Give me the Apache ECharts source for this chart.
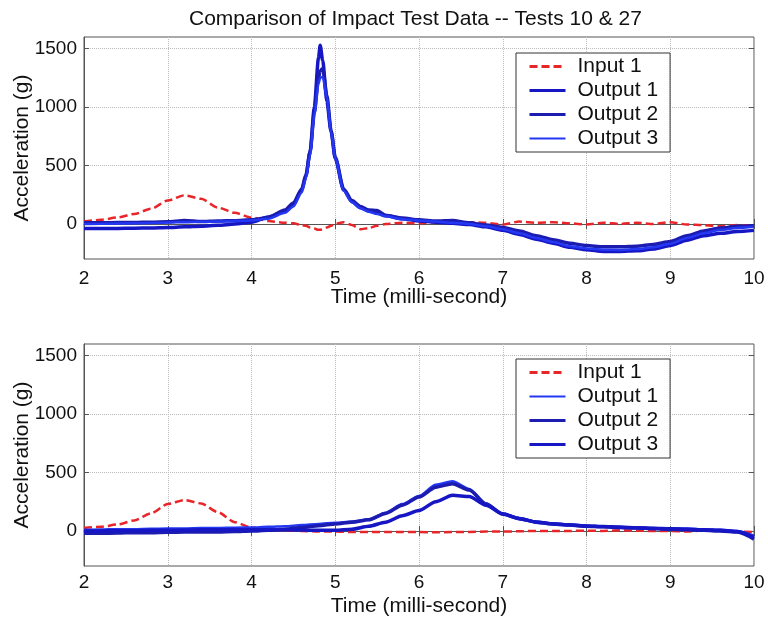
<!DOCTYPE html>
<html>
<head>
<meta charset="utf-8">
<title>Comparison of Impact Test Data</title>
<script src="https://cdn.jsdelivr.net/npm/echarts@6/dist/echarts.min.js"></script>
<style>
  html, body { margin: 0; padding: 0; background: #fff; }
  #chart { width: 768px; height: 619px; }
</style>
</head>
<body>
<div id="chart"></div>
<script>
// time samples (milli-second)
const topTime = [2, 2.2, 2.4, 2.6, 2.8, 3, 3.2, 3.4, 3.6, 3.8, 4, 4.2, 4.4, 4.5, 4.6, 4.65, 4.7, 4.75, 4.8, 4.82,
	4.85, 4.9, 4.95, 5, 5.1, 5.2, 5.3, 5.4, 5.5, 5.6, 5.8, 6, 6.2, 6.4, 6.6, 6.8, 7, 7.2, 7.4, 7.6,
	7.8, 8, 8.2, 8.4, 8.6, 8.8, 9, 9.2, 9.4, 9.6, 9.8, 10];
const botTime = [2, 2.2, 2.4, 2.6, 2.8, 3, 3.2, 3.4, 3.6, 3.8, 4, 4.2, 4.4, 4.6, 4.8, 5, 5.2, 5.4, 5.6, 5.8,
	6, 6.2, 6.4, 6.6, 6.8, 7, 7.2, 7.4, 7.6, 7.8, 8, 8.2, 8.4, 8.6, 8.8, 9, 9.2, 9.4, 9.6, 9.8, 10];

// top panel (g)
const topInput = [20, 35, 55, 85, 130, 200, 245, 215, 140, 95, 55, 25, 10, 5, -10, -15, -30, -40, -50, -50,
	-45, -30, -15, 0, 15, -10, -45, -35, -15, 0, 10, 5, 15, 5, 15, 10, -5, 20, 10, 15,
	5, -5, 10, 0, 10, 0, 15, -5, -10, -20, -10, -15];
const topOut1 = [-40, -40, -38, -36, -34, -30, -25, -20, -12, 0, 15, 60, 110, 170, 290, 410, 620, 1000, 1420, 1530,
	1400, 1050, 790, 560, 290, 190, 140, 110, 95, 70, 45, 25, 15, 5, -5, -25, -55, -90, -130, -165,
	-200, -220, -235, -235, -230, -215, -185, -140, -100, -80, -65, -55];
const topOut2 = [10, 10, 12, 12, 15, 18, 30, 20, 25, 28, 35, 55, 120, 180, 300, 420, 620, 950, 1250, 1310,
	1330, 1100, 800, 570, 300, 200, 150, 120, 115, 75, 50, 35, 25, 30, 10, -10, -30, -60, -100, -135,
	-165, -185, -195, -195, -190, -175, -150, -100, -60, -35, -20, -15];
const topOut3 = [0, 2, 3, 5, 8, 12, 15, 18, 20, 25, 30, 45, 95, 150, 270, 390, 590, 930, 1200, 1250,
	1260, 1080, 790, 560, 285, 185, 135, 105, 85, 65, 40, 30, 20, 10, 0, -20, -45, -80, -120, -155,
	-190, -210, -220, -222, -215, -200, -170, -120, -80, -50, -35, -25];

// bottom panel (g)
const botInput = [25, 35, 55, 90, 150, 230, 265, 235, 160, 75, 30, 10, 5, 0, -5, -5, -10, -10, -10, -10,
	-10, -12, -10, -8, -5, -5, -3, 0, 0, 0, 2, 0, 5, 2, 0, 0, -5, 5, 0, -5, -10];
const botOut1 = [10, 12, 15, 15, 18, 20, 22, 25, 25, 28, 30, 35, 40, 50, 60, 70, 80, 100, 155, 230,
	300, 395, 425, 360, 235, 150, 110, 80, 65, 55, 45, 40, 35, 30, 25, 20, 20, 15, 10, 0, -40];
const botOut2 = [-20, -20, -18, -15, -15, -12, -10, -10, -8, -5, 0, 5, 15, 30, 45, 60, 75, 95, 150, 220,
	290, 375, 405, 350, 230, 145, 105, 75, 60, 50, 40, 35, 30, 25, 20, 15, 10, 5, 0, -10, -70];
const botOut3 = [0, 0, 2, 2, 5, 5, 8, 10, 10, 12, 10, 10, 10, 8, 5, 5, 15, 40, 75, 130,
	175, 250, 305, 295, 220, 145, 105, 75, 60, 50, 42, 38, 32, 28, 22, 18, 15, 10, 5, -5, -55];

const seriesNames = ["Input 1", "Output 1", "Output 2", "Output 3"];
const yTicks = [0, 500, 1000, 1500];

const FONT = "Liberation Sans, Arial, Helvetica, sans-serif";
const BOX = "#555";
const RED = "#e8262a";
const BLUE_DARK = "#1616c4";
const BLUE_MID = "#1c1cb0";
const BLUE_LIGHT = "#2438f4";
const NO_MARK = {color: "rgba(0,0,0,0)", borderColor: "rgba(0,0,0,0)", borderWidth: 0};

const pairs = (t, v) => t.map((x, i) => [x, v[i]]);

const chart = echarts.init(document.getElementById("chart"));

function xAxes(gridIndex, margin, nameGap) {
	return [
		{
			type: "value", gridIndex: gridIndex, min: 2, max: 10, interval: 1,
			name: "Time (milli-second)", nameLocation: "middle", nameGap: nameGap, nameMoveOverlap: false,
			nameTextStyle: {fontFamily: FONT, fontSize: 21, color: "#111"},
			axisLine: {show: true, lineStyle: {color: BOX}},
			axisTick: {show: true, inside: true, length: 5, lineStyle: {color: BOX}},
			axisLabel: {fontFamily: FONT, fontSize: 19, color: "#111", margin: margin},
			splitLine: {show: true, lineStyle: {color: "#bcbcbc", type: "dotted"}},
		},
		{
			type: "value", gridIndex: gridIndex, position: "top", min: 2, max: 10, interval: 1,
			axisLine: {show: false},
			axisTick: {show: true, inside: true, length: 5, lineStyle: {color: BOX}},
			axisLabel: {show: false},
			splitLine: {show: false},
		},
	];
}

function yAxes(gridIndex) {
	return [
		{
			type: "value", gridIndex: gridIndex, min: -300, max: 1600,
			name: "Acceleration (g)", nameLocation: "middle", nameGap: 51, nameMoveOverlap: false,
			nameTextStyle: {fontFamily: FONT, fontSize: 21, color: "#111"},
			axisLine: {show: true, lineStyle: {color: BOX}},
			axisTick: {show: true, inside: true, length: 5, lineStyle: {color: BOX}, customValues: yTicks},
			axisLabel: {
				fontFamily: FONT, fontSize: 19, color: "#111", margin: 7, customValues: yTicks,
				formatter: (v) => String(v),
			},
			splitLine: {show: true, lineStyle: {color: "#bcbcbc", type: "dotted"}},
		},
		{
			type: "value", gridIndex: gridIndex, position: "right", min: -300, max: 1600,
			axisLine: {show: false},
			axisTick: {show: true, inside: true, length: 5, lineStyle: {color: BOX}, customValues: yTicks},
			axisLabel: {show: false},
			splitLine: {show: false},
		},
	];
}

function line(name, data, axisIndex, color, width, dashed) {
	return {
		name: name, type: "line", data: data,
		xAxisIndex: axisIndex, yAxisIndex: axisIndex,
		symbol: "none", smooth: 0.25, smoothMonotone: "x",
		lineStyle: {color: color, width: width, type: dashed ? [8, 4] : "solid"},
		itemStyle: {color: color},
	};
}

function legend(top, styles) {
	return {
		orient: "vertical", left: 516, top: top,
		backgroundColor: "#fff", borderColor: "#333", borderWidth: 1,
		padding: [3, 12, 3, 12], itemGap: 3, itemWidth: 36, itemHeight: 14,
		selectedMode: false,
		textStyle: {fontFamily: FONT, fontSize: 21, color: "#111", padding: [0, 0, 0, 7]},
		data: seriesNames.map((n, i) => ({name: n, lineStyle: styles[i], itemStyle: NO_MARK})),
	};
}

const gridBase = {
	left: 84, width: 670, height: 222, outerBoundsMode: "none", containLabel: false,
	show: true, borderColor: BOX, borderWidth: 1, backgroundColor: "#fff",
};

const options = {
	animation: false,
	backgroundColor: "#fff",
	title: {
		text: "Comparison of Impact Test Data -- Tests 10 & 27",
		left: 184, top: 4,
		textStyle: {fontFamily: FONT, fontSize: 21, fontWeight: "normal", color: "#111"},
	},
	grid: [
		{...gridBase, top: 37},
		{...gridBase, top: 344},
	],
	xAxis: [...xAxes(0, 10, 28), ...xAxes(1, 7, 30)],
	yAxis: [...yAxes(0), ...yAxes(1)],
	legend: [
		legend(53, [
			{color: RED, width: 3, type: [8, 4]},
			{color: BLUE_DARK, width: 3, type: "solid"},
			{color: BLUE_MID, width: 3, type: "solid"},
			{color: BLUE_LIGHT, width: 2, type: "solid"},
		]),
		legend(359, [
			{color: RED, width: 3, type: [8, 4]},
			{color: BLUE_LIGHT, width: 2, type: "solid"},
			{color: BLUE_MID, width: 3, type: "solid"},
			{color: BLUE_DARK, width: 3, type: "solid"},
		]),
	],
	series: [
		line("Input 1", pairs(topTime, topInput), 0, RED, 2.5, true),
		line("Output 1", pairs(topTime, topOut1), 0, BLUE_DARK, 3.5),
		line("Output 2", pairs(topTime, topOut2), 0, BLUE_MID, 3.5),
		line("Output 3", pairs(topTime, topOut3), 0, BLUE_LIGHT, 2.5),
		// bottom panel uses the third x axis and the third y axis
		line("Input 1", pairs(botTime, botInput), 2, RED, 2.5, true),
		line("Output 1", pairs(botTime, botOut1), 2, BLUE_LIGHT, 2.5),
		line("Output 2", pairs(botTime, botOut2), 2, BLUE_MID, 3.5),
		line("Output 3", pairs(botTime, botOut3), 2, BLUE_DARK, 3.5),
	],
};

chart.setOption(options);
</script>
</body>
</html>
